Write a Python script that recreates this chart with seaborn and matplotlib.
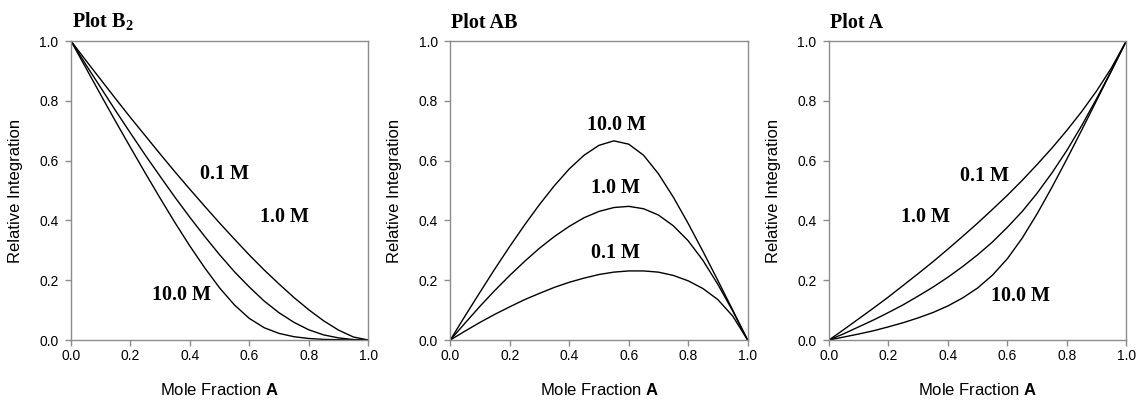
import numpy as np
import pandas as pd
import seaborn as sns
import matplotlib
matplotlib.use("Agg")
import matplotlib.pyplot as plt

# ---------------- data ----------------
mole_fraction = [0.00, 0.05, 0.10, 0.15, 0.20, 0.25, 0.30, 0.35, 0.40, 0.45, 0.50,
                 0.55, 0.60, 0.65, 0.70, 0.75, 0.80, 0.85, 0.90, 0.95, 1.00]
concentrations = ["0.1 M", "1.0 M", "10.0 M"]

# Plot B2
b2_01 = [1.0, 0.935, 0.871, 0.807, 0.744, 0.683, 0.622, 0.562, 0.504, 0.447, 0.391,
         0.337, 0.284, 0.234, 0.187, 0.142, 0.101, 0.064, 0.033, 0.010, 0.0]
b2_1 = [1.0, 0.921, 0.844, 0.767, 0.692, 0.618, 0.547, 0.477, 0.410, 0.346, 0.285,
        0.228, 0.177, 0.130, 0.091, 0.059, 0.034, 0.017, 0.007, 0.0015, 0.0]
b2_10 = [1.0, 0.910, 0.820, 0.731, 0.644, 0.558, 0.474, 0.392, 0.314, 0.241, 0.174,
         0.117, 0.072, 0.041, 0.022, 0.011, 0.005, 0.002, 0.001, 0.0, 0.0]

# Plot AB
ab_01 = [0.0, 0.030, 0.059, 0.086, 0.111, 0.135, 0.156, 0.176, 0.193, 0.207, 0.219,
         0.227, 0.231, 0.231, 0.227, 0.216, 0.198, 0.172, 0.135, 0.080, 0.0]
ab_1 = [0.0, 0.057, 0.113, 0.166, 0.216, 0.263, 0.307, 0.346, 0.380, 0.409, 0.430,
        0.443, 0.447, 0.439, 0.418, 0.382, 0.332, 0.266, 0.186, 0.097, 0.0]
ab_10 = [0.0, 0.081, 0.160, 0.238, 0.313, 0.385, 0.453, 0.516, 0.572, 0.618, 0.651,
         0.666, 0.655, 0.618, 0.556, 0.478, 0.390, 0.296, 0.199, 0.100, 0.0]

# Plot A
a_01 = [0.0, 0.035, 0.071, 0.107, 0.144, 0.183, 0.222, 0.262, 0.304, 0.347, 0.391,
        0.437, 0.484, 0.534, 0.587, 0.642, 0.701, 0.764, 0.833, 0.910, 1.0]
a_1 = [0.0, 0.021, 0.044, 0.067, 0.092, 0.118, 0.147, 0.177, 0.210, 0.246, 0.285,
       0.328, 0.377, 0.430, 0.491, 0.559, 0.634, 0.717, 0.807, 0.901, 1.0]
a_10 = [0.0, 0.010, 0.020, 0.031, 0.044, 0.058, 0.074, 0.092, 0.114, 0.141, 0.174,
        0.217, 0.272, 0.341, 0.422, 0.511, 0.605, 0.702, 0.801, 0.900, 1.0]

tick_values = [0.0, 0.2, 0.4, 0.6, 0.8, 1.0]
tick_labels = ["0.0", "0.2", "0.4", "0.6", "0.8", "1.0"]

panel_titles = [r"Plot B$_{\mathbf{2}}$", "Plot AB", "Plot A"]
panel_series = [[b2_01, b2_1, b2_10], [ab_01, ab_1, ab_10], [a_01, a_1, a_10]]
# label positions (data coords) for each concentration in each panel
label_pos = [
    [(0.515, 0.555), (0.717, 0.41), (0.372, 0.15)],
    [(0.556, 0.29), (0.557, 0.507), (0.558, 0.72)],
    [(0.522, 0.55), (0.323, 0.41), (0.644, 0.147)],
]

# ---------------- style ----------------
sns.set_theme(style="white")
plt.rcParams["font.family"] = ["Liberation Sans", "DejaVu Sans"]
plt.rcParams["mathtext.fontset"] = "custom"
plt.rcParams["mathtext.rm"] = "Liberation Serif:bold"
plt.rcParams["mathtext.bf"] = "Liberation Serif:bold"
plt.rcParams["mathtext.sf"] = "Liberation Sans:bold"

W, H = 1138, 401
fig = plt.figure(figsize=(W / 100, H / 100), dpi=100)
fig.patch.set_facecolor("white")

lefts = [71, 450.3, 829]
ax_w, ax_h = 297.3, 299
ax_bottom = 61

frame_color = "#8c8c8c"

for i in range(3):
    ax = fig.add_axes([lefts[i] / W, ax_bottom / H, ax_w / W, ax_h / H])
    rows = []
    for conc, vals in zip(concentrations, panel_series[i]):
        for xv, yv in zip(mole_fraction, vals):
            rows.append({"x": xv, "y": yv, "conc": conc})
    df = pd.DataFrame(rows)
    sns.lineplot(data=df, x="x", y="y", units="conc", estimator=None,
                 color="black", linewidth=1.0, ax=ax, legend=False)
    ax.set_xlim(0, 1)
    ax.set_ylim(0, 1)
    ax.set_xticks(tick_values)
    ax.set_xticklabels(tick_labels)
    ax.set_yticks(tick_values)
    ax.set_yticklabels(tick_labels)
    for sp in ax.spines.values():
        sp.set_color(frame_color)
        sp.set_linewidth(1.0)
    ax.tick_params(axis="both", direction="out", length=4, width=1.0,
                   color=frame_color, labelsize=10, labelcolor="black")
    ax.tick_params(axis="x", pad=2.5)
    ax.tick_params(axis="y", pad=5)
    ax.tick_params(axis="both", which="both", bottom=True, left=True, top=False, right=False)
    ax.set_xlabel(r"Mole Fraction $\mathsf{A}$", fontsize=12, color="black")
    ax.set_ylabel("Relative Integration", fontsize=12, color="black")
    ax.xaxis.set_label_coords(0.5, -0.142)
    ax.yaxis.set_label_coords(-0.161, 0.5)
    ax.text(0.003, 1.043, panel_titles[i], transform=ax.transAxes, ha="left",
            va="baseline", fontsize=14.5, fontweight="bold",
            family="Liberation Serif", color="black")
    for conc, (lx, ly) in zip(concentrations, label_pos[i]):
        ax.text(lx, ly, conc, ha="center", va="center", fontsize=14.5,
                fontweight="bold", family="Liberation Serif", color="black")

fig.savefig("out.png", dpi=100, facecolor="white")
